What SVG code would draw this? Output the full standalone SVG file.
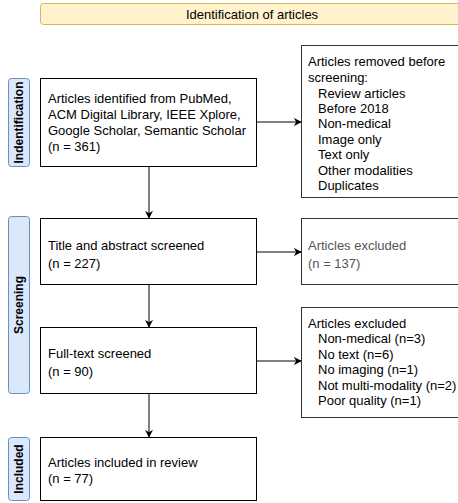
<svg xmlns="http://www.w3.org/2000/svg" width="458" height="503" viewBox="0 0 458 503">
<defs>
<marker id="arr" viewBox="0 0 10 10" refX="9" refY="5" markerWidth="8" markerHeight="8" markerUnits="userSpaceOnUse" orient="auto">
<path d="M0,0 L10,5 L0,10 L3,5 Z" fill="#000"/>
</marker>
<style>
text{font-family:"Liberation Sans",Arial,sans-serif;font-size:13px;fill:#000}
.box{fill:#fff;stroke:#000;stroke-width:1}
.rbox{fill:#fff;stroke:#333;stroke-width:1}
.lane{fill:#dae8fc;stroke:#6c8ebf;stroke-width:1}
.lt{font-weight:bold;font-size:12px;text-anchor:middle}
.hdr{fill:#fff2cc;stroke:#d6b656;stroke-width:1}
.con{stroke:#000;stroke-width:1;fill:none;marker-end:url(#arr)}
.grey{fill:#555}
</style>
</defs>
<g id="header">
<rect class="hdr" x="40.5" y="3.5" width="440" height="21" rx="3"/>
<text x="252" y="18.5" text-anchor="middle">Identification of articles</text>
</g>
<g id="lane-identification">
<rect class="lane" x="8.5" y="78.5" width="21" height="88" rx="3"/>
<text class="lt" transform="translate(23,122.5) rotate(-90)">Indentification</text>
</g>
<g id="lane-screening">
<rect class="lane" x="8.5" y="216.5" width="21" height="177" rx="3"/>
<text class="lt" transform="translate(23,305) rotate(-90)">Screening</text>
</g>
<g id="lane-included">
<rect class="lane" x="8.5" y="437.5" width="21" height="63" rx="3"/>
<text class="lt" transform="translate(23,469) rotate(-90)">Included</text>
</g>
<g id="identified">
<rect class="box" x="40.5" y="78.5" width="216" height="88"/>
<text x="48" y="103">Articles identified from PubMed,</text>
<text x="48" y="118.5">ACM Digital Library, IEEE Xplore,</text>
<text x="48" y="134.5">Google Scholar, Semantic Scholar</text>
<text x="48" y="150.5">(n = 361)</text>
</g>
<g id="removed">
<rect class="rbox" x="301.5" y="45.5" width="170" height="152"/>
<text x="308" y="65.5">Articles removed before</text>
<text x="308" y="81.5">screening:</text>
<text x="318" y="97.5">Review articles</text>
<text x="318" y="112.5">Before 2018</text>
<text x="318" y="128">Non-medical</text>
<text x="318" y="143.5">Image only</text>
<text x="318" y="159">Text only</text>
<text x="318" y="174.5">Other modalities</text>
<text x="318" y="190">Duplicates</text>
</g>
<g id="title-abstract">
<rect class="box" x="40.5" y="218.5" width="216" height="66"/>
<text x="48" y="249.5">Title and abstract screened</text>
<text x="48" y="267.5">(n = 227)</text>
</g>
<g id="excluded-1">
<rect class="rbox" x="301.5" y="218.5" width="170" height="66"/>
<text class="grey" x="308" y="249.5">Articles excluded</text>
<text class="grey" x="308" y="267.5">(n = 137)</text>
</g>
<g id="full-text">
<rect class="box" x="40.5" y="327.5" width="216" height="66"/>
<text x="48" y="357.5">Full-text screened</text>
<text x="48" y="375.5">(n = 90)</text>
</g>
<g id="excluded-2">
<rect class="rbox" x="301.5" y="307.5" width="170" height="110"/>
<text x="308" y="327.5">Articles excluded</text>
<text x="318" y="343">Non-medical (n=3)</text>
<text x="318" y="358.5">No text (n=6)</text>
<text x="318" y="374">No imaging (n=1)</text>
<text x="318" y="389.5">Not multi-modality (n=2)</text>
<text x="318" y="405">Poor quality (n=1)</text>
</g>
<g id="included">
<rect class="box" x="40.5" y="437.5" width="216" height="63"/>
<text x="48" y="466.5">Articles included in review</text>
<text x="48" y="482.5">(n = 77)</text>
</g>
<g id="connectors">
<line class="con" x1="149" y1="167" x2="149" y2="218"/>
<line class="con" x1="149" y1="285" x2="149" y2="327"/>
<line class="con" x1="149" y1="394" x2="149" y2="437"/>
<line class="con" x1="257" y1="122" x2="301" y2="122"/>
<line class="con" x1="257" y1="252" x2="301" y2="252"/>
<line class="con" x1="257" y1="361" x2="301" y2="361"/>
</g>
</svg>
